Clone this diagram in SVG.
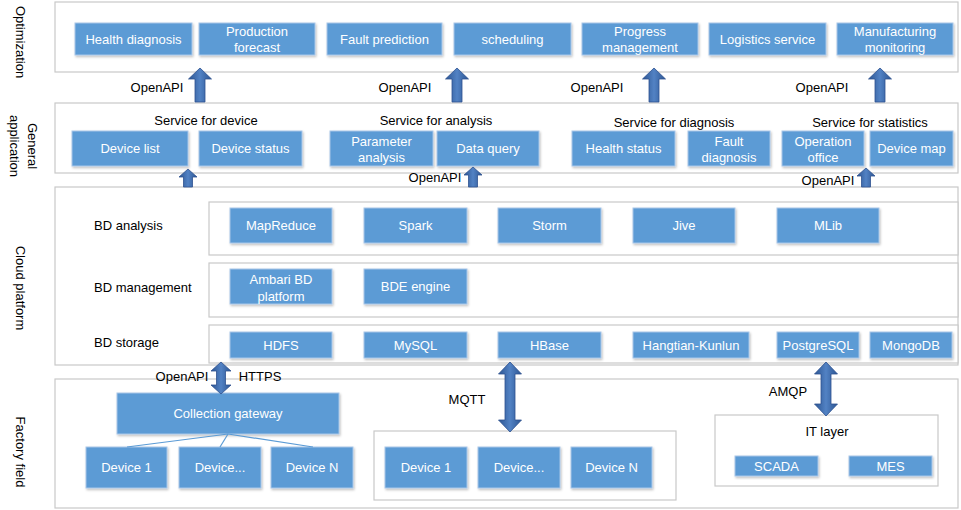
<svg xmlns="http://www.w3.org/2000/svg" width="961" height="510" viewBox="0 0 961 510">
<defs>
<linearGradient id="ag" x1="0" y1="0" x2="1" y2="0">
<stop offset="0" stop-color="#2c5592"/>
<stop offset="0.5" stop-color="#5282c4"/>
<stop offset="1" stop-color="#2c5592"/>
</linearGradient>
<filter id="sh" x="-5%" y="-10%" width="115%" height="130%">
<feDropShadow dx="1" dy="1.5" stdDeviation="1" flood-color="#000" flood-opacity="0.25"/>
</filter>
</defs>
<style>
.layer{fill:#fff;stroke:#c9c9c9;stroke-width:1.2}
.sub{fill:#fff;stroke:#c9c9c9;stroke-width:1.2}
.box{fill:#5b9bd5;stroke:#a9c6e8;stroke-width:1;filter:url(#sh)}
.bt{font-family:"Liberation Sans",Arial,sans-serif;font-size:13px;fill:#fff;text-anchor:middle}
.lt{font-family:"Liberation Sans",Arial,sans-serif;font-size:13px;fill:#000;text-anchor:middle}
.ll{font-family:"Liberation Sans",Arial,sans-serif;font-size:13px;fill:#000}
.arr{fill:url(#ag);stroke:#2f528f;stroke-width:0.8}
.ln{stroke:#5b9bd5;stroke-width:1.2;fill:none}
</style>

<g id="layer-optimization">
<rect class="layer" x="55" y="2" width="903" height="70"/>
<text class="lt" transform="translate(20,42) rotate(90)" dy="4.5">Optimization</text>
</g>
<g id="layer-general">
<rect class="layer" x="55" y="103" width="903" height="70"/>
<text class="lt" transform="translate(32,146) rotate(90)" dy="4.5">General</text>
<text class="lt" transform="translate(14,146) rotate(90)" dy="4.5">application</text>
</g>
<g id="layer-cloud">
<rect class="layer" x="55" y="187" width="903" height="178"/>
<text class="lt" transform="translate(20,288) rotate(90)" dy="4.5">Cloud platform</text>
</g>
<g id="layer-factory">
<rect class="layer" x="55" y="379" width="903" height="129"/>
<text class="lt" transform="translate(20,452) rotate(90)" dy="4.5">Factory field</text>
</g>

<!-- Optimization nodes -->
<g id="n-health-diagnosis"><rect class="box" x="75" y="23" width="117" height="32"/><text class="bt" x="133.5" y="43.5">Health diagnosis</text></g>
<g id="n-production-forecast"><rect class="box" x="199" y="23" width="116" height="32"/><text class="bt" x="257" y="35.5">Production</text><text class="bt" x="257" y="51.5">forecast</text></g>
<g id="n-fault-prediction"><rect class="box" x="327" y="23" width="115" height="32"/><text class="bt" x="384.5" y="43.5">Fault prediction</text></g>
<g id="n-scheduling"><rect class="box" x="454" y="23" width="117" height="32"/><text class="bt" x="512.5" y="43.5">scheduling</text></g>
<g id="n-progress-management"><rect class="box" x="582" y="23" width="116" height="32"/><text class="bt" x="640" y="35.5">Progress</text><text class="bt" x="640" y="51.5">management</text></g>
<g id="n-logistics-service"><rect class="box" x="709" y="23" width="117" height="32"/><text class="bt" x="767.5" y="43.5">Logistics service</text></g>
<g id="n-manufacturing-monitoring"><rect class="box" x="837" y="23" width="116" height="32"/><text class="bt" x="895" y="35.5">Manufacturing</text><text class="bt" x="895" y="51.5">monitoring</text></g>

<!-- General application -->
<g id="grp-service-device"><text class="lt" x="206" y="124.5">Service for device</text></g>
<g id="grp-service-analysis"><text class="lt" x="436" y="124.5">Service for analysis</text></g>
<g id="grp-service-diagnosis"><text class="lt" x="674" y="127">Service for diagnosis</text></g>
<g id="grp-service-statistics"><text class="lt" x="870" y="127">Service for statistics</text></g>
<g id="n-device-list"><rect class="box" x="72" y="131" width="116" height="35"/><text class="bt" x="130" y="153">Device list</text></g>
<g id="n-device-status"><rect class="box" x="199" y="131" width="103" height="35"/><text class="bt" x="250.5" y="153">Device status</text></g>
<g id="n-parameter-analysis"><rect class="box" x="330" y="131" width="103" height="35"/><text class="bt" x="381.5" y="145.5">Parameter</text><text class="bt" x="381.5" y="161.5">analysis</text></g>
<g id="n-data-query"><rect class="box" x="437" y="131" width="102" height="35"/><text class="bt" x="488" y="153">Data query</text></g>
<g id="n-health-status"><rect class="box" x="572" y="131" width="103" height="35"/><text class="bt" x="623.5" y="153">Health status</text></g>
<g id="n-fault-diagnosis"><rect class="box" x="688" y="131" width="82" height="35"/><text class="bt" x="729" y="145.5">Fault</text><text class="bt" x="729" y="161.5">diagnosis</text></g>
<g id="n-operation-office"><rect class="box" x="782" y="131" width="82" height="35"/><text class="bt" x="823" y="145.5">Operation</text><text class="bt" x="823" y="161.5">office</text></g>
<g id="n-device-map"><rect class="box" x="870" y="131" width="83" height="35"/><text class="bt" x="911.5" y="153">Device map</text></g>

<!-- Cloud platform -->
<g id="grp-bd-analysis">
<rect class="sub" x="209" y="202" width="749" height="53"/>
<text class="ll" x="94" y="229.5">BD analysis</text>
</g>
<g id="grp-bd-management">
<rect class="sub" x="209" y="263" width="749" height="54"/>
<text class="ll" x="94" y="291.5">BD management</text>
</g>
<g id="grp-bd-storage">
<rect class="sub" x="209" y="325" width="749" height="38"/>
<text class="ll" x="94" y="346.5">BD storage</text>
</g>
<g id="n-mapreduce"><rect class="box" x="230" y="208" width="102" height="35"/><text class="bt" x="281" y="230">MapReduce</text></g>
<g id="n-spark"><rect class="box" x="364" y="208" width="103" height="35"/><text class="bt" x="415.5" y="230">Spark</text></g>
<g id="n-storm"><rect class="box" x="498" y="208" width="103" height="35"/><text class="bt" x="549.5" y="230">Storm</text></g>
<g id="n-jive"><rect class="box" x="633" y="208" width="102" height="35"/><text class="bt" x="684" y="230">Jive</text></g>
<g id="n-mlib"><rect class="box" x="777" y="208" width="102" height="35"/><text class="bt" x="828" y="230">MLib</text></g>
<g id="n-ambari"><rect class="box" x="230" y="269" width="102" height="35"/><text class="bt" x="281" y="283.5">Ambari BD</text><text class="bt" x="281" y="300.5">platform</text></g>
<g id="n-bde-engine"><rect class="box" x="364" y="269" width="103" height="35"/><text class="bt" x="415.5" y="291">BDE engine</text></g>
<g id="n-hdfs"><rect class="box" x="230" y="332" width="102" height="26"/><text class="bt" x="281" y="349.5">HDFS</text></g>
<g id="n-mysql"><rect class="box" x="364" y="332" width="103" height="26"/><text class="bt" x="415.5" y="349.5">MySQL</text></g>
<g id="n-hbase"><rect class="box" x="498" y="332" width="103" height="26"/><text class="bt" x="549.5" y="349.5">HBase</text></g>
<g id="n-hangtian"><rect class="box" x="633" y="332" width="116" height="26"/><text class="bt" x="691" y="349.5">Hangtian-Kunlun</text></g>
<g id="n-postgresql"><rect class="box" x="777" y="332" width="82" height="26"/><text class="bt" x="818" y="349.5">PostgreSQL</text></g>
<g id="n-mongodb"><rect class="box" x="870" y="332" width="82" height="26"/><text class="bt" x="911" y="349.5">MongoDB</text></g>

<!-- Factory field -->
<g id="n-collection-gateway"><rect class="box" x="117" y="393" width="222" height="41"/><text class="bt" x="228" y="418">Collection gateway</text></g>
<g id="n-gw-device-1"><rect class="box" x="86" y="447" width="81" height="41"/><text class="bt" x="126.5" y="472">Device 1</text></g>
<g id="n-gw-device-dots"><rect class="box" x="179" y="447" width="82" height="41"/><text class="bt" x="220" y="472">Device...</text></g>
<g id="n-gw-device-n"><rect class="box" x="271" y="447" width="82" height="41"/><text class="bt" x="312" y="472">Device N</text></g>
<g id="grp-mqtt">
<rect class="sub" x="374" y="431" width="302" height="69"/>
</g>
<g id="n-mq-device-1"><rect class="box" x="385" y="447" width="82" height="41"/><text class="bt" x="426" y="472">Device 1</text></g>
<g id="n-mq-device-dots"><rect class="box" x="478" y="447" width="82" height="41"/><text class="bt" x="519" y="472">Device...</text></g>
<g id="n-mq-device-n"><rect class="box" x="571" y="447" width="81" height="41"/><text class="bt" x="611.5" y="472">Device N</text></g>
<g id="grp-it-layer">
<rect class="sub" x="715" y="415" width="223" height="71"/>
<text class="lt" x="827" y="435.5">IT layer</text>
</g>
<g id="n-scada"><rect class="box" x="735" y="456" width="83" height="20"/><text class="bt" x="776.5" y="470.5">SCADA</text></g>
<g id="n-mes"><rect class="box" x="849" y="456" width="83" height="20"/><text class="bt" x="890.5" y="470.5">MES</text></g>

<!-- Connectors -->
<g id="connectors">
<path class="arr" d="M200,68 L211.5,79 L205,79 L205,102 L195,102 L195,79 L188.5,79 Z"/>
<path class="arr" d="M457,68 L468.5,79 L462,79 L462,102 L452,102 L452,79 L445.5,79 Z"/>
<path class="arr" d="M654,68 L665.5,79 L659,79 L659,102 L649,102 L649,79 L642.5,79 Z"/>
<path class="arr" d="M880,68 L891.5,79 L885,79 L885,102 L875,102 L875,79 L868.5,79 Z"/>
<text class="lt" x="157" y="92">OpenAPI</text>
<text class="lt" x="405" y="92">OpenAPI</text>
<text class="lt" x="597" y="92">OpenAPI</text>
<text class="lt" x="822" y="92">OpenAPI</text>

<path class="arr" d="M188,169 L197,177 L192.5,177 L192.5,187 L183.5,187 L183.5,177 L179,177 Z"/>
<path class="arr" d="M473,167 L482,175 L477.5,175 L477.5,187 L468.5,187 L468.5,175 L464,175 Z"/>
<path class="arr" d="M866,168 L875,176 L870.5,176 L870.5,187 L861.5,187 L861.5,176 L857,176 Z"/>
<text class="lt" x="435" y="181.5">OpenAPI</text>
<text class="lt" x="828" y="184.5">OpenAPI</text>

<path class="arr" d="M221,362 L231,371 L225.5,371 L225.5,385 L231,385 L221,394 L211,385 L216.5,385 L216.5,371 L211,371 Z"/>
<text class="lt" x="182" y="380.5">OpenAPI</text>
<text class="lt" x="260" y="380.5">HTTPS</text>

<path class="arr" d="M510,362 L521.5,374 L515,374 L515,420 L521.5,420 L510,432 L498.5,420 L505,420 L505,374 L498.5,374 Z"/>
<text class="lt" x="467" y="403.5">MQTT</text>

<path class="arr" d="M826,362 L837.5,374 L831,374 L831,404 L837.5,404 L826,416 L814.5,404 L821,404 L821,374 L814.5,374 Z"/>
<text class="lt" x="788" y="395.5">AMQP</text>

<line class="ln" x1="228" y1="434" x2="127" y2="447"/>
<line class="ln" x1="228" y1="434" x2="220" y2="447"/>
<line class="ln" x1="228" y1="434" x2="313" y2="447"/>
</g>
</svg>
